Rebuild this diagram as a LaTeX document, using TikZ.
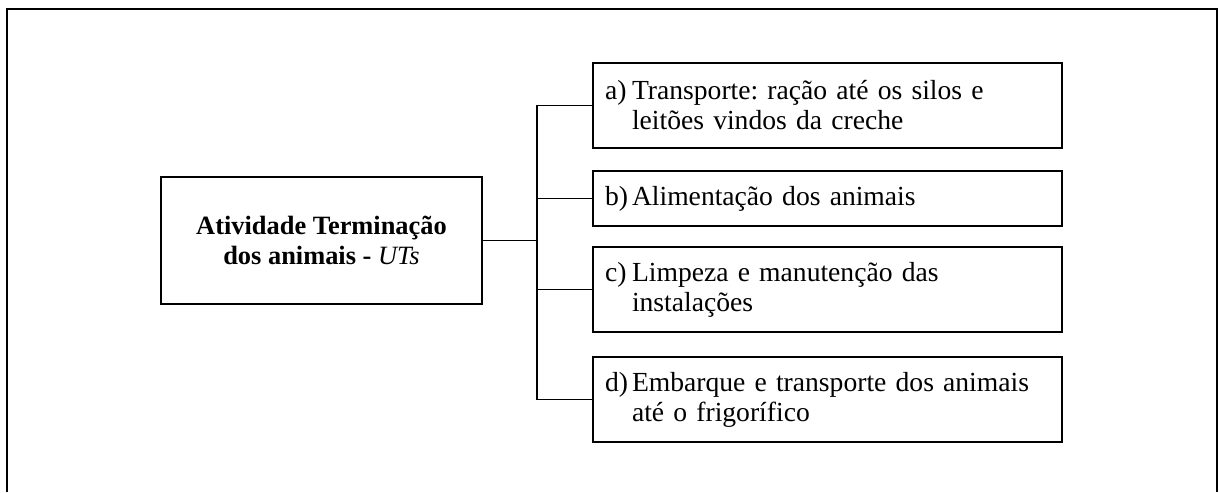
\documentclass[tikz,border=0pt]{standalone}
\usepackage{fontspec}
\setmainfont{Liberation Serif}
\usepackage{tikz}
\frenchspacing

\newcommand{\itm}[2]{\makebox[13.5pt][l]{#1}\parbox[t]{205pt}{#2}}

\begin{document}
\begin{tikzpicture}[x=0.5pt,y=-0.5pt,
		box/.style={draw,line width=0.9pt,inner sep=0pt},
		item/.style={box,minimum width=234.5pt,text width=222.5pt,align=left,
			font=\fontsize{13.8}{15}\selectfont}]
		\useasboundingbox (0,0) rectangle (1219,492);
		\draw[line width=1.3pt] (7,492)--(7,9)--(1217,9)--(1217,492);
		\node[box,minimum width=160.5pt,minimum height=63.5pt,align=center,
			font=\fontsize{13.2}{15}\selectfont\bfseries] (main) at (321.5,240.5)
			{Atividade Terminação\\dos animais - {\mdseries\itshape UTs}};
		\node[item,minimum height=42.5pt] (a) at (827.5,105.5)
			{\itm{a)}{Transporte: ração até os silos e\\leitões vindos da creche}};
		\node[item,minimum height=27.5pt] (b) at (827.5,198.5)
			{\itm{b)}{Alimentação dos animais}};
		\node[item,minimum height=42.5pt] (c) at (827.5,289.5)
			{\itm{c)}{Limpeza e manutenção das\\instalações}};
		\node[item,minimum height=42.5pt] (d) at (827.5,399.5)
			{\itm{d)}{Embarque e transporte dos animais\\até o frigorífico}};
		\coordinate (spine) at (537,240.5);
		\draw[line width=0.9pt] (main.east)--(spine);
		\draw[line width=0.9pt] (a.west -| spine)--(d.west -| spine);
		\draw[line width=0.9pt] (a.west)--(a.west -| spine);
		\draw[line width=0.9pt] (b.west)--(b.west -| spine);
		\draw[line width=0.9pt] (c.west)--(c.west -| spine);
		\draw[line width=0.9pt] (d.west)--(d.west -| spine);
	\end{tikzpicture}
\end{document}
